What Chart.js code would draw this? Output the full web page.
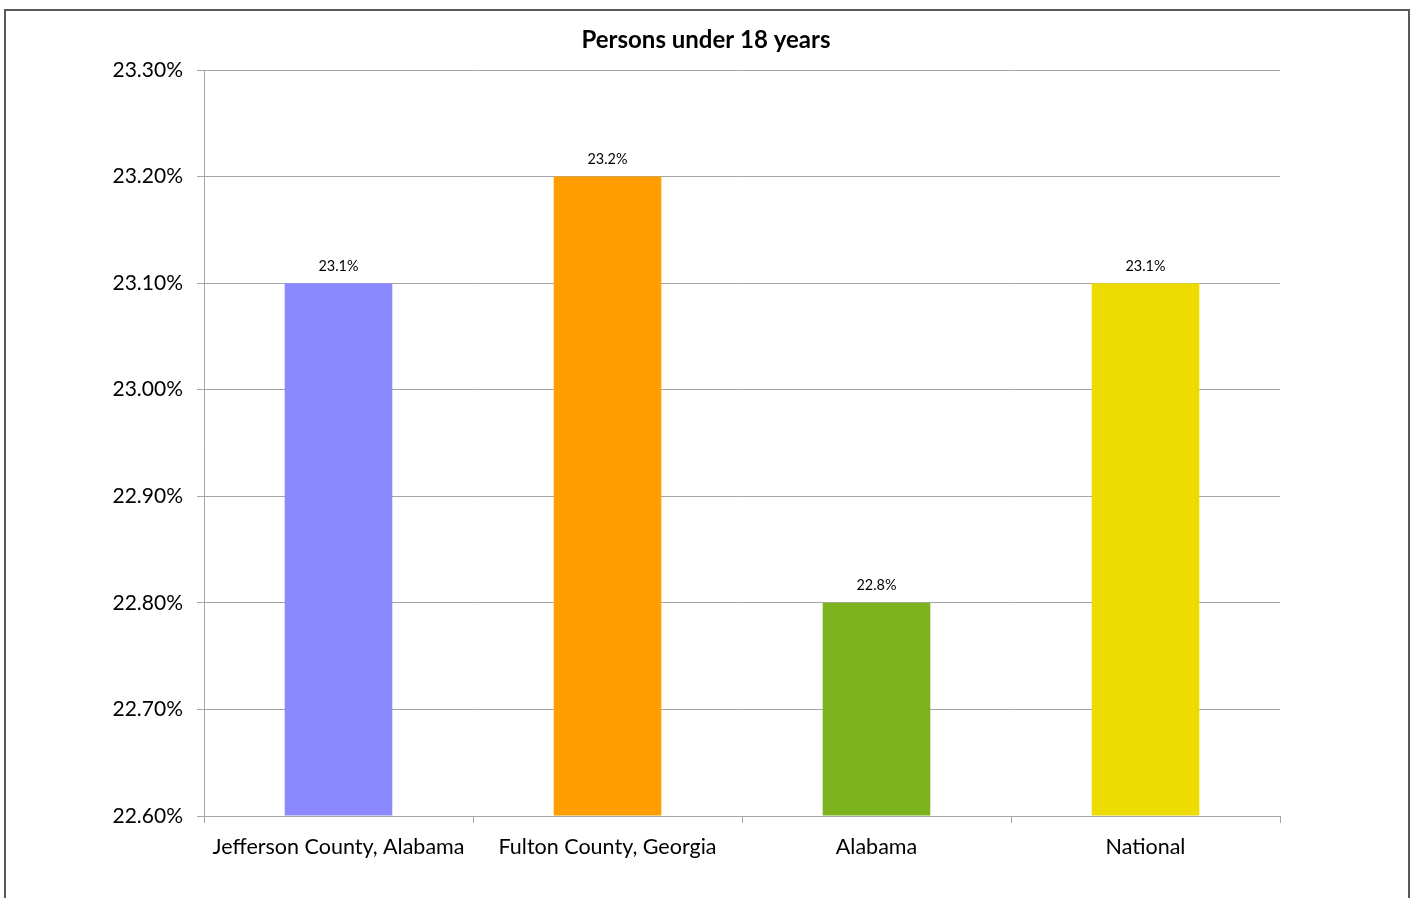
<!DOCTYPE html>
<html>
<head>
<meta charset="utf-8">
<script src="https://cdn.jsdelivr.net/npm/chart.js@4/dist/chart.umd.min.js"></script>
<style>
  html, body { margin: 0; padding: 0; background: #ffffff; }
  #wrap { position: relative; width: 1416px; height: 898px; overflow: hidden; }
  #frame { position: absolute; left: 4px; top: 9px; width: 1402px; height: 920px; border: 2px solid #595959; }
  canvas { position: absolute; left: 0; top: 0; }
</style>
</head>
<body>
<div id="wrap">
  <div id="frame"></div>
  <canvas id="c" width="1416" height="898"></canvas>
</div>
<script>
const chartTitle = "Persons under 18 years";
const categories = ["Jefferson County, Alabama", "Fulton County, Georgia", "Alabama", "National"];
const values = [23.1, 23.2, 22.8, 23.1];
const yTicks = [22.6, 22.7, 22.8, 22.9, 23.0, 23.1, 23.2, 23.3];
const barColors = ["#8B89FF", "#FF9E00", "#7CB31D", "#EEDC00"];

const FONT = "Lato, 'Open Sans', sans-serif";

const labelsPlugin = {
  id: 'valueLabels',
  afterDatasetsDraw(chart) {
    const ctx = chart.ctx;
    const meta = chart.getDatasetMeta(0);
    ctx.save();
    ctx.fillStyle = '#000000';
    ctx.font = "14.4px " + FONT;
    ctx.textAlign = 'center';
    ctx.textBaseline = 'middle';
    meta.data.forEach((bar, i) => {
      ctx.fillText(values[i].toFixed(1) + '%', bar.x, bar.y - 17);
    });
    ctx.restore();
  }
};

const titlePlugin = {
  id: 'customTitle',
  afterDraw(chart) {
    const ctx = chart.ctx;
    ctx.save();
    ctx.fillStyle = '#000000';
    ctx.font = "bold 24px " + FONT;
    ctx.textAlign = 'center';
    ctx.textBaseline = 'middle';
    ctx.fillText(chartTitle, 706, 40);
    ctx.restore();
  }
};

new Chart(document.getElementById('c'), {
  type: 'bar',
  data: {
    labels: categories,
    datasets: [{
      data: values,
      backgroundColor: barColors,
      borderWidth: 0,
      categoryPercentage: 1.0,
      barPercentage: 0.4,
      base: yTicks[0]
    }]
  },
  options: {
    responsive: false,
    animation: false,
    devicePixelRatio: 1,
    layout: { padding: { left: 0, right: 136, top: 70, bottom: 0 } },
    plugins: {
      legend: { display: false },
      title: { display: false },
      tooltip: { enabled: false }
    },
    scales: {
      x: {
        grid: {
          offset: true,
          drawOnChartArea: false,
          drawTicks: true,
          tickLength: 7,
          color: '#a6a6a6'
        },
        border: { display: true, color: '#a6a6a6', width: 1 },
        ticks: {
          color: '#000000',
          font: { family: FONT, size: 21.5 },
          padding: 11,
          maxRotation: 0,
          autoSkip: false
        },
        afterFit(scale) { scale.height = 82; }
      },
      y: {
        min: yTicks[0],
        max: yTicks[yTicks.length - 1],
        afterBuildTicks(scale) { scale.ticks = yTicks.map(v => ({ value: v })); },
        grid: {
          color: '#a6a6a6',
          tickLength: 7,
          drawTicks: true
        },
        border: { display: true, color: '#a6a6a6', width: 1 },
        ticks: {
          color: '#000000',
          font: { family: FONT, size: 21 },
          padding: 14,
          callback: (v) => Number(v).toFixed(2) + '%'
        },
        afterFit(scale) { scale.width = 204; }
      }
    }
  },
  plugins: [labelsPlugin, titlePlugin]
});
</script>
</body>
</html>
